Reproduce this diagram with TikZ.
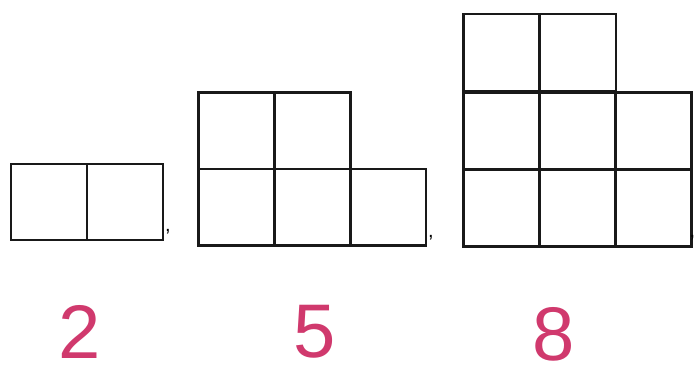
\documentclass[tikz,border=0pt]{standalone}
\usepackage{fontspec}
\setmainfont{Liberation Sans}
\definecolor{digitpink}{HTML}{D0396D}
\begin{document}
\begin{tikzpicture}[x=1pt,y=-1pt,
  cellline/.style={draw=black!90,line width=2.6pt,line join=miter},
  digit/.style={text=digitpink,font=\fontsize{76}{76}\selectfont,inner sep=0pt},
  commamark/.style={font=\fontsize{20}{20}\selectfont,inner sep=0pt,anchor=north}]
\useasboundingbox (0,0) rectangle (694,365);
% figure 1
\foreach \x in {11,87}{\draw[cellline] (\x,164) rectangle ++(76,76);}
% figure 2
\foreach \x/\y in {198.5/92.5,274.5/92.5,198.5/169,274.5/169,350/169}{\draw[cellline] (\x,\y) rectangle ++(76,76.5);}
% figure 3
\foreach \x/\y in {463.5/14,540/14,463.5/92.5,540/92.5,615.5/92.5,463.5/169.5,540/169.5,615.5/169.5}{\draw[cellline] (\x,\y) rectangle ++(76,77);}
% commas
\node[commamark] (c1) at (168,229) {,};
\node[commamark] (c2) at (431,235) {,};
\node[commamark] (c3) at (692.5,235) {,};
% numbers
\node[digit] (n1) at (80,332) {2};
\node[digit] (n2) at (315,332) {5};
\node[digit] (n3) at (554,334) {8};
\end{tikzpicture}
\end{document}
